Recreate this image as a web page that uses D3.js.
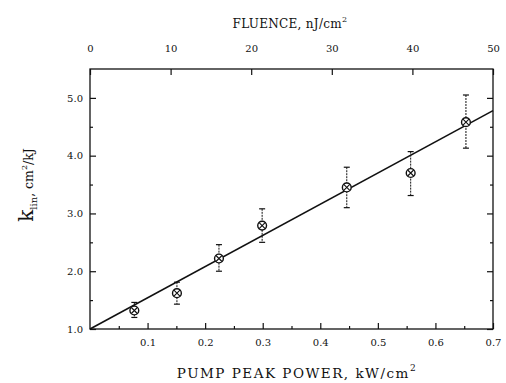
<!DOCTYPE html>
<html>
<head>
<meta charset="utf-8">
<script src="https://cdn.jsdelivr.net/npm/d3@7"></script>
<style>
  html, body { margin: 0; padding: 0; background: #fff; }
  svg { display: block; }
  svg text { font-family: "DejaVu Serif", serif; fill: #111; }
</style>
</head>
<body>
<svg id="chart" width="506" height="383"></svg>
<script>
// Pump peak power (kW/cm^2) and measured k_lin (cm^2/kJ)
const power = [0.077, 0.151, 0.224, 0.299, 0.446, 0.557, 0.653];
const klin  = [1.32, 1.62, 2.22, 2.79, 3.45, 3.70, 4.58];
const errHi = [1.46, 1.81, 2.46, 3.08, 3.80, 4.07, 5.05];
const errLo = [1.20, 1.43, 2.00, 2.50, 3.10, 3.31, 4.13];
// Linear fit endpoints
const fitX = [0, 0.7];
const fitY = [1.0, 4.78];
// Tick values
const bottomTicks = [0.1, 0.2, 0.3, 0.4, 0.5, 0.6, 0.7];
const leftTicks = [1, 2, 3, 4, 5];
const topTicks = [0, 10, 20, 30, 40, 50];

const svg = d3.select("#chart");
const L = 90, R = 493, T = 69, B = 329;
const FONT = "DejaVu Serif, serif";

const x = d3.scaleLinear().domain([0, 0.7]).range([L, R]);
const xTop = d3.scaleLinear().domain([0, 50]).range([L, R]);
const y = d3.scaleLinear().domain([1.0, 5.5]).range([B, T]);

const ink = "#111";
const styleLabels = g => g.selectAll("text").attr("font-size", 10).attr("fill", ink)
  .attr("font-family", FONT);

// Frame
svg.append("rect").attr("x", L).attr("y", T).attr("width", R - L).attr("height", B - T)
  .attr("fill", "none").attr("stroke", ink).attr("stroke-width", 1.3);

// Bottom axis: major ticks inward with minor ticks in between
const minorX = d3.range(0.05, 0.7, 0.1);
svg.append("g").attr("transform", `translate(0,${B})`)
  .call(d3.axisBottom(x).tickValues(bottomTicks).tickSize(-6).tickPadding(10)
    .tickFormat(d3.format(".1f")))
  .call(g => g.select(".domain").remove())
  .call(styleLabels);
svg.append("g").attr("transform", `translate(0,${B})`)
  .call(d3.axisBottom(x).tickValues(minorX).tickSize(-3).tickFormat(""))
  .call(g => g.select(".domain").remove());

// Top axis (fluence)
svg.append("g").attr("transform", `translate(0,${T})`)
  .call(d3.axisTop(xTop).tickValues(topTicks).tickSize(-6).tickPadding(17)
    .tickFormat(d3.format("d")))
  .call(g => g.select(".domain").remove())
  .call(styleLabels);

// Left axis
const minorY = d3.range(1.5, 5.5, 1);
svg.append("g").attr("transform", `translate(${L},0)`)
  .call(d3.axisLeft(y).tickValues(leftTicks).tickSize(-6).tickPadding(7)
    .tickFormat(d3.format(".1f")))
  .call(g => g.select(".domain").remove())
  .call(styleLabels);
svg.append("g").attr("transform", `translate(${L},0)`)
  .call(d3.axisLeft(y).tickValues(minorY).tickSize(-3).tickFormat(""))
  .call(g => g.select(".domain").remove());

// Right axis ticks
svg.append("g").attr("transform", `translate(${R},0)`)
  .call(d3.axisRight(y).tickValues(leftTicks).tickSize(-6).tickFormat(""))
  .call(g => g.select(".domain").remove());
svg.append("g").attr("transform", `translate(${R},0)`)
  .call(d3.axisRight(y).tickValues(minorY).tickSize(-3).tickFormat(""))
  .call(g => g.select(".domain").remove());

svg.selectAll(".tick line").attr("stroke", ink).attr("stroke-width", 1.2);

// Fit line
svg.append("line")
  .attr("x1", x(fitX[0])).attr("y1", y(fitY[0]))
  .attr("x2", x(fitX[1])).attr("y2", y(fitY[1]))
  .attr("stroke", ink).attr("stroke-width", 1.6);

// Error bars
const pts = power.map((p, i) => ({ p, k: klin[i], hi: errHi[i], lo: errLo[i] }));
const eb = svg.append("g");
pts.forEach(d => {
  eb.append("line").attr("x1", x(d.p)).attr("x2", x(d.p))
    .attr("y1", y(d.hi)).attr("y2", y(d.lo))
    .attr("stroke", ink).attr("stroke-width", 1).attr("stroke-dasharray", "2,1");
  [d.hi, d.lo].forEach(v => {
    eb.append("line").attr("x1", x(d.p) - 3).attr("x2", x(d.p) + 3)
      .attr("y1", y(v)).attr("y2", y(v))
      .attr("stroke", ink).attr("stroke-width", 1.2);
  });
});

// Markers: circle with a cross inside
const mk = svg.append("g").selectAll("g").data(pts).join("g")
  .attr("transform", d => `translate(${x(d.p)},${y(d.k)})`);
mk.append("circle").attr("r", 4.4).attr("fill", "#fff").attr("stroke", ink).attr("stroke-width", 1.4);
mk.append("path").attr("d", "M-3,-3L3,3M-3,3L3,-3").attr("stroke", ink).attr("stroke-width", 1.1);

// Axis titles
const topTitle = svg.append("text").attr("x", 290).attr("y", 28).attr("text-anchor", "middle")
  .attr("font-size", 12).attr("letter-spacing", 0.3);
topTitle.append("tspan").text("FLUENCE, nJ/cm");
topTitle.append("tspan").attr("dy", -6).attr("font-size", 8).text("2");

const bottomTitle = svg.append("text").attr("x", 297).attr("y", 378).attr("text-anchor", "middle")
  .attr("font-size", 13.5).attr("letter-spacing", 1.5);
bottomTitle.append("tspan").text("PUMP PEAK POWER, kW/cm");
bottomTitle.append("tspan").attr("dy", -7).attr("font-size", 9).text("2");

const leftTitle = svg.append("text").attr("transform", "translate(33,185) rotate(-90)")
  .attr("text-anchor", "middle").attr("font-size", 12.5);
leftTitle.append("tspan").attr("font-size", 20).text("k");
leftTitle.append("tspan").attr("dy", 4).attr("font-size", 10).text("lin");
leftTitle.append("tspan").attr("dy", -4).text(", cm");
leftTitle.append("tspan").attr("dy", -6).attr("font-size", 8).text("2");
leftTitle.append("tspan").attr("dy", 6).text("/kJ");
</script>
</body>
</html>
